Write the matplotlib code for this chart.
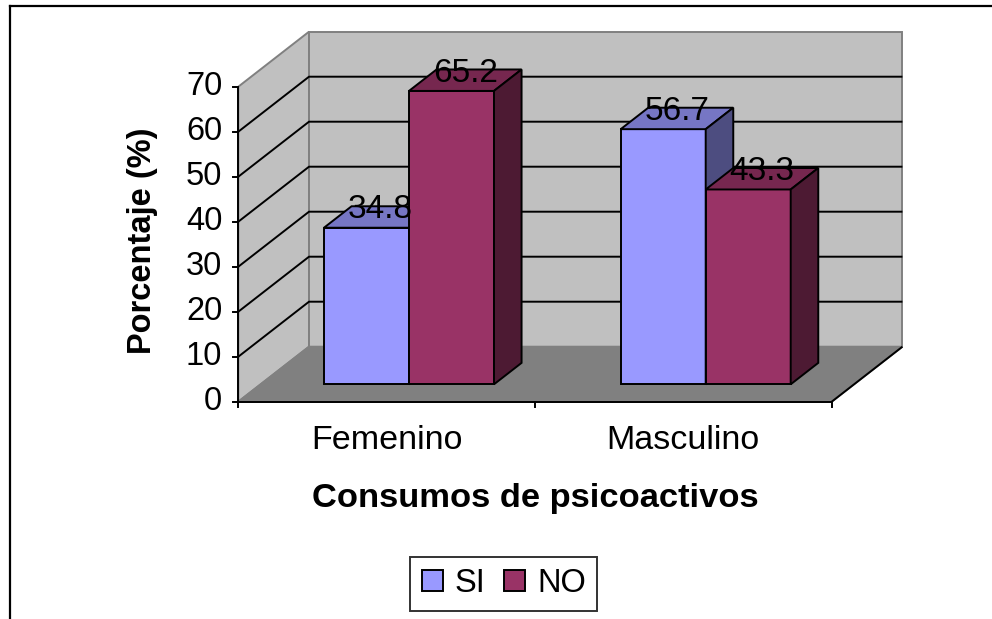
import numpy as np
import matplotlib.pyplot as plt
from matplotlib.patches import Polygon, Rectangle
from matplotlib.lines import Line2D

categorias = ['Femenino', 'Masculino']
series = ['SI', 'NO']
si = [34.8, 56.7]
no = [65.2, 43.3]
yticks = [0, 10, 20, 30, 40, 50, 60, 70]
colores = ['#9999FF', '#993366']

plt.rcParams['font.family'] = ['Liberation Sans', 'DejaVu Sans']
fs = 23.5

W, H = 992, 619
fig = plt.figure(figsize=(W / 100, H / 100), dpi=100)
ax = fig.add_axes([0, 0, 1, 1])

# front plane: x=0 at px 238.3, 296.7 px per category; y=0 at px 401.7, 4.5 px per %
x0px, catpx = 238.3, 296.7
y0px, valpx = 401.7, 4.5
ax.set_xlim(-x0px / catpx, (W - x0px) / catpx)
ax.set_ylim((y0px - H) / valpx, y0px / valpx)
ax.axis('off')

DX = 70.7 / catpx   # full depth offset
DY = 55.0 / valpx
ymax = yticks[-1]
ncat = len(categorias)


def pt(x, y, d):
    return (x + d * DX, y + d * DY)


def poly(pts, fc, ec, lw=1.4, z=1):
    ax.add_patch(Polygon([pt(*p) for p in pts], closed=True, fc=fc, ec=ec, lw=lw,
                         zorder=z, joinstyle='miter'))


def line(pts, color='black', lw=1.4, z=2):
    xy = np.array([pt(*p) for p in pts])
    ax.plot(xy[:, 0], xy[:, 1], color=color, lw=lw, zorder=z, solid_capstyle='butt')


def shade(c, f):
    r, g, b = plt.matplotlib.colors.to_rgb(c)
    return (r * f, g * f, b * f)


# walls and floor
poly([(0, 0, 0), (0, ymax, 0), (0, ymax, 1), (0, 0, 1)], '#C0C0C0', '#808080')
poly([(0, 0, 1), (ncat, 0, 1), (ncat, ymax, 1), (0, ymax, 1)], '#C0C0C0', '#808080')
poly([(0, 0, 0), (ncat, 0, 0), (ncat, 0, 1), (0, 0, 1)], '#808080', '#808080')

for v in yticks[1:-1]:
    line([(0, v, 0), (0, v, 1), (ncat, v, 1)])

# axes lines and ticks
line([(0, 0, 0), (0, ymax, 0)], z=3)
line([(0, 0, 0), (ncat, 0, 0)], z=3)
line([(ncat, 0, 0), (ncat, 0, 1)], z=3)
tx = 5 / catpx
for v in yticks:
    ax.plot([-tx, 0], [v, v], color='black', lw=1.4, zorder=3)
    ax.text(-16 / catpx, v, str(v), ha='right', va='center', fontsize=fs)
for i in range(ncat + 1):
    ax.plot([i, i], [0, -1.1], color='black', lw=1.4, zorder=3)
for i, c in enumerate(categorias):
    ax.text(i + 0.5, -10.6, c, ha='center', va='baseline', fontsize=24.5)

# bars
w = 0.2865
d0, d1 = 0.316, 0.706
dm = (d0 + d1) / 2
valores = [si, no]
etiquetas = []
for i in range(ncat):
    for j in range(len(series)):
        h = valores[j][i]
        xa = i + 0.5 + (j - 1) * w
        xb = xa + w
        col = colores[j]
        poly([(xa, 0, d0), (xb, 0, d0), (xb, h, d0), (xa, h, d0)], col, 'black', z=4)
        poly([(xa, h, d0), (xb, h, d0), (xb, h, d1), (xa, h, d1)], shade(col, 0.77), 'black', z=4)
        poly([(xb, 0, d0), (xb, 0, d1), (xb, h, d1), (xb, h, d0)], shade(col, 0.5), 'black', z=4)
        etiquetas.append(((xa + xb) / 2 + dm * DX, h + dm * DY, h))

for x, y, h in etiquetas:
    ax.text(x, y - 0.3, f'{h:.1f}', ha='center', va='baseline', fontsize=24, zorder=6)

# axis titles
ax.text(1.0, -23.3, 'Consumos de psicoactivos', ha='center', va='baseline',
        fontsize=24.8, fontweight='bold')
ax.text(-0.323, 35.8, 'Porcentaje (%)', ha='center', va='center', rotation=90,
        fontsize=fs, fontweight='bold')

# legend
handles = [Rectangle((0, 0), 1, 1, fc=c, ec='black', lw=1.4) for c in colores]
leg = fig.legend(handles, series, loc='center', bbox_to_anchor=(503.8 / W, 1 - 583.7 / H),
                 ncol=2, frameon=True, fancybox=False, edgecolor='black', fontsize=fs,
                 handlelength=0.66, handleheight=0.62, handletextpad=0.36,
                 columnspacing=0.56, borderpad=0.35)
leg.get_frame().set_linewidth(1.4)

# outer chart border (right and bottom edges lie outside the picture)
fig.add_artist(Line2D([10 / W, 10 / W], [0, 1 - 6 / H], color='black', lw=1.6))
fig.add_artist(Line2D([10 / W, 1], [1 - 6 / H, 1 - 6 / H], color='black', lw=1.6))

fig.savefig('out.png', dpi=100, facecolor='white')
